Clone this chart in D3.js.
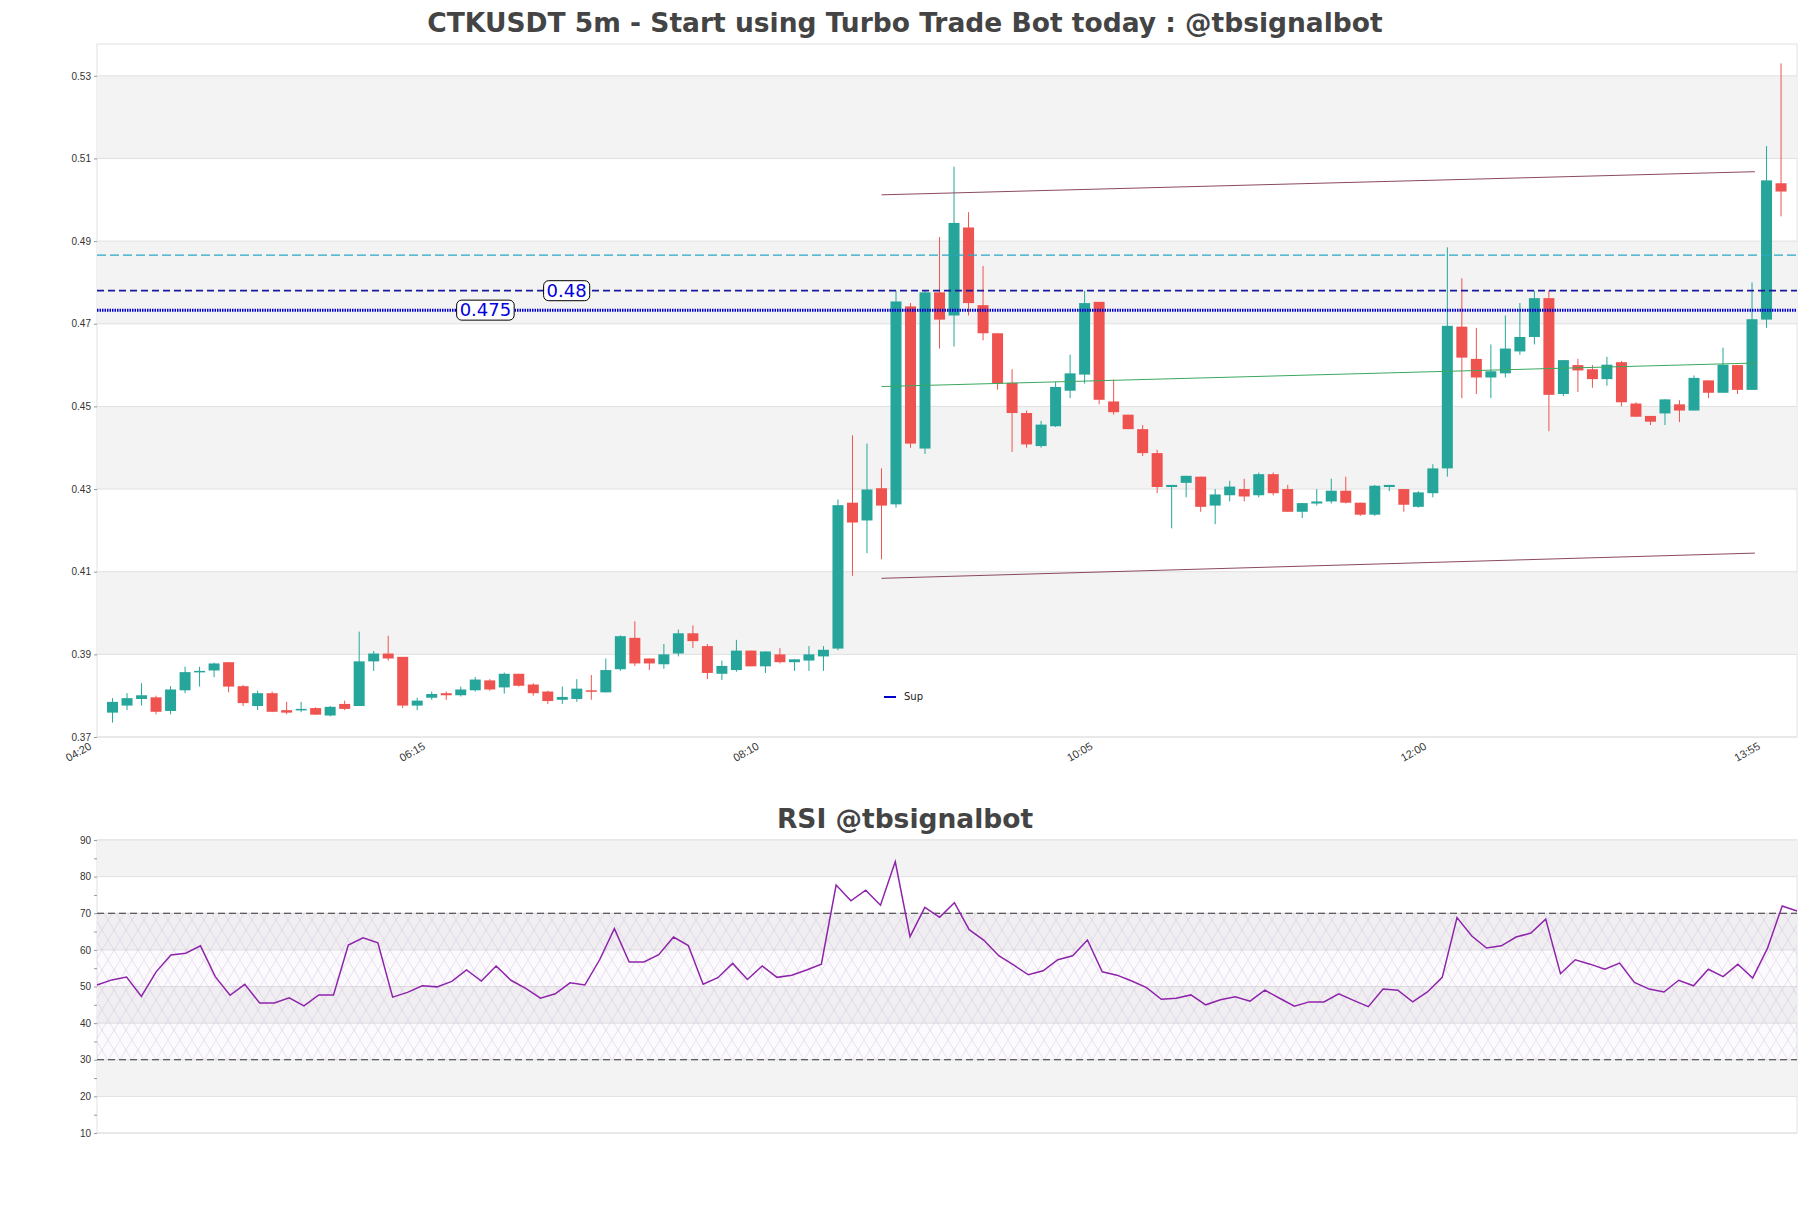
<!DOCTYPE html>
<html><head><meta charset="utf-8">
<script src="https://cdn.jsdelivr.net/npm/d3@7"></script>
<style>body{margin:0;background:#fff;font-family:"DejaVu Sans",sans-serif}</style>
</head><body><svg id="c" width="1811" height="1208"></svg>
<script>
const tickLabels=["04:20","06:15","08:10","10:05","12:00","13:55"];
const tickIndex=[0,23,46,69,92,115];
const open=[.3759,.3776,.3792,.3796,.3763,.3813,.3857,.3861,.3881,.3823,.3775,.3806,.3765,.3766,.3770,.3752,.3780,.3775,.3883,.3902,.3894,.3776,.3795,.3806,.3801,.3813,.3837,.3820,.3853,.3827,.3810,.3790,.3792,.3813,.3808,.3864,.3940,.3890,.3876,.3902,.3951,.3920,.3853,.3862,.3909,.3871,.3900,.3881,.3885,.3895,.3914,.4267,.4224,.4302,.4263,.4742,.4398,.4776,.4720,.4933,.4745,.4677,.4557,.4484,.4404,.4452,.4538,.4577,.4753,.4512,.4480,.4445,.4387,.4305,.4315,.4330,.4260,.4285,.4300,.4285,.4336,.4300,.4245,.4265,.4270,.4296,.4267,.4238,.4305,.4300,.4257,.4290,.4350,.4693,.4615,.4570,.4580,.4633,.4668,.4762,.4530,.4600,.4590,.4566,.4607,.4507,.4477,.4483,.4505,.4490,.4563,.4533,.4600,.4540,.4710,.5040];
const high=[.3794,.3806,.3830,.3800,.3823,.3870,.3870,.3880,.3881,.3826,.3812,.3810,.3785,.3785,.3772,.3775,.3788,.3955,.3908,.3945,.3894,.3795,.3810,.3810,.3822,.3845,.3840,.3856,.3853,.3830,.3812,.3822,.3840,.3850,.3890,.3946,.3980,.3890,.3925,.3960,.3970,.3925,.3885,.3935,.3909,.3907,.3915,.3888,.3920,.3920,.4275,.4430,.4410,.4350,.4780,.4750,.4780,.4910,.5080,.4970,.4840,.4677,.4590,.4490,.4465,.4560,.4625,.4780,.4753,.4565,.4480,.4455,.4395,.4310,.4332,.4330,.4300,.4320,.4325,.4340,.4340,.4310,.4266,.4300,.4325,.4330,.4267,.4310,.4310,.4300,.4295,.4360,.4885,.4810,.4690,.4650,.4720,.4750,.4780,.4780,.4612,.4615,.4600,.4620,.4610,.4510,.4477,.4517,.4515,.4575,.4563,.4642,.4600,.4800,.5130,.5330];
const low=[.3735,.3765,.3776,.3755,.3755,.3806,.3822,.3845,.3808,.3775,.3765,.3760,.3755,.3760,.3754,.3750,.3765,.3775,.3860,.3885,.3770,.3765,.3790,.3790,.3798,.3810,.3812,.3805,.3822,.3800,.3780,.3780,.3785,.3790,.3808,.3860,.3872,.3862,.3865,.3895,.3915,.3840,.3838,.3858,.3871,.3855,.3878,.3860,.3860,.3860,.3910,.4090,.4145,.4130,.4255,.4400,.4385,.4640,.4645,.4720,.4660,.4540,.4390,.4400,.4400,.4450,.4520,.4555,.4505,.4480,.4445,.4380,.4290,.4205,.4280,.4245,.4215,.4270,.4270,.4280,.4285,.4245,.4230,.4260,.4265,.4265,.4235,.4235,.4295,.4245,.4255,.4280,.4330,.4520,.4530,.4520,.4570,.4625,.4650,.4440,.4525,.4535,.4545,.4550,.4500,.4475,.4455,.4455,.4462,.4490,.4520,.4533,.4530,.4540,.4690,.4960];
const close=[.3785,.3794,.3801,.3761,.3815,.3857,.3860,.3878,.3822,.3782,.3806,.3761,.3759,.3768,.3754,.3773,.3768,.3883,.3902,.3890,.3776,.3788,.3804,.3801,.3815,.3839,.3815,.3853,.3824,.3806,.3787,.3797,.3817,.3810,.3862,.3944,.3878,.3878,.3900,.3951,.3932,.3855,.3872,.3909,.3871,.3907,.3881,.3888,.3900,.3911,.4261,.4219,.4299,.4260,.4754,.4410,.4776,.4710,.4944,.4750,.4677,.4555,.4484,.4408,.4456,.4547,.4580,.4750,.4516,.4486,.4445,.4387,.4305,.4310,.4332,.4257,.4287,.4306,.4282,.4336,.4290,.4245,.4266,.4270,.4296,.4267,.4238,.4308,.4310,.4262,.4292,.4350,.4695,.4618,.4570,.4585,.4640,.4668,.4762,.4528,.4612,.4587,.4566,.4601,.4510,.4475,.4463,.4517,.4490,.4569,.4533,.4601,.4540,.4711,.5047,.5020];
const rsi=[50.4,51.8,52.6,47.3,54.0,58.6,59.1,61.1,52.7,47.6,50.6,45.5,45.5,46.9,44.7,47.7,47.7,61.3,63.3,61.9,47.1,48.4,50.2,49.9,51.4,54.5,51.5,55.6,51.7,49.5,46.8,48.0,51.0,50.4,57.3,65.8,56.7,56.7,58.7,63.5,61.2,50.6,52.4,56.3,51.9,55.6,52.5,53.1,54.5,56.1,77.7,73.4,76.3,72.2,84.1,63.6,71.6,68.9,72.9,65.5,62.6,58.4,55.9,53.2,54.3,57.3,58.4,62.7,54.0,53.1,51.5,49.7,46.5,46.8,47.7,45.0,46.4,47.2,46.0,49.0,46.8,44.6,45.8,45.8,48.0,46.2,44.5,49.3,49.0,45.8,48.5,52.5,68.8,63.8,60.5,61.1,63.5,64.6,68.4,53.5,57.3,56.1,54.7,56.4,51.1,49.3,48.5,51.7,50.2,54.7,52.7,56.1,52.3,60.4,72.0,70.6];
const hLines=[{v:0.4866,c:"#2aa8c8",d:"9,4",w:1.3},{v:0.478,c:"#1a1aa0",d:"7,4",w:1.8,label:"0.48",lx:31.3},{v:0.4733,c:"#0000cc",d:"1.5,1",w:3,label:"0.475",lx:25.7}];
const upperLine=[[53,0.5012],[113.2,0.5068]];
const lowerLine=[[53,0.4084],[113.2,0.4145]];
const midLine=[[53,0.4548],[113.2,0.4605]];
const priceTicks=[0.37,0.39,0.41,0.43,0.45,0.47,0.49,0.51,0.53];
const rsiTicks=[10,20,30,40,50,60,70,80,90];

const svg=d3.select("#c");
const L=97,R=1797,T=44,B=737;
const x=d3.scaleLinear().domain([-1.07,116.1]).range([L,R]);
const y=d3.scaleLinear().domain([0.37,0.5377]).range([B,T]);
const g=svg.append("g");
g.append("rect").attr("x",L).attr("y",T).attr("width",R-L).attr("height",B-T).attr("fill","#fff").attr("stroke","#e2e2e2");
for(let i=0;i<priceTicks.length-1;i++){ if(i%2==1) g.append("rect").attr("x",L).attr("width",R-L).attr("y",y(priceTicks[i+1])).attr("height",y(priceTicks[i])-y(priceTicks[i+1])).attr("fill","#f3f3f3");}
priceTicks.forEach(t=>g.append("line").attr("x1",L).attr("x2",R).attr("y1",y(t)).attr("y2",y(t)).attr("stroke","#e0e0e0"));
const ya=g.append("g").attr("transform",`translate(${L},0)`).call(d3.axisLeft(y).tickValues(priceTicks).tickFormat(d3.format(".2f")).tickSize(3));
ya.select(".domain").remove();ya.selectAll("text").attr("font-size",10).attr("fill","#333");ya.selectAll("line").attr("stroke","#999");
const xa=g.append("g").attr("transform",`translate(0,${B})`).call(d3.axisBottom(x).tickValues(tickIndex).tickFormat((d,i)=>tickLabels[i]).tickSize(0));
xa.select(".domain").remove();
xa.selectAll("text").attr("font-size",11).attr("fill","#333").attr("text-anchor","end").attr("transform","translate(-26,2) rotate(-30)");
const cw=11;
open.forEach((o,i)=>{const c=close[i],col=c>=o?"#26a69a":"#ef5350";
 g.append("line").attr("x1",x(i)).attr("x2",x(i)).attr("y1",y(high[i])).attr("y2",y(low[i])).attr("stroke",col).attr("stroke-width",1);
 g.append("rect").attr("x",x(i)-cw/2).attr("width",cw).attr("y",y(Math.max(o,c))).attr("height",Math.max(1.5,Math.abs(y(o)-y(c)))).attr("fill",col);});
const ln=d3.line().x(d=>x(d[0])).y(d=>y(d[1]));
g.append("path").attr("d",ln(upperLine)).attr("stroke","#8b4a5e").attr("fill","none");
g.append("path").attr("d",ln(lowerLine)).attr("stroke","#8b4a5e").attr("fill","none");
g.append("path").attr("d",ln(midLine)).attr("stroke","#3aa860").attr("fill","none");
hLines.forEach(h=>{g.append("line").attr("x1",L).attr("x2",R).attr("y1",y(h.v)).attr("y2",y(h.v)).attr("stroke",h.c).attr("stroke-width",h.w).attr("stroke-dasharray",h.d);
 if(h.label){const t=g.append("text").attr("x",x(h.lx)).attr("y",y(h.v)+6).attr("text-anchor","middle").attr("font-size",18).attr("fill","#0000dd").text(h.label);
  const bb=t.node().getBBox();g.insert("rect",()=>t.node()).attr("x",bb.x-3).attr("y",bb.y+1).attr("width",bb.width+6).attr("height",bb.height-1).attr("rx",5).attr("fill","#fff").attr("stroke","#000");}});
g.append("line").attr("x1",884).attr("x2",896).attr("y1",697).attr("y2",697).attr("stroke","#0000cc").attr("stroke-width",2);
g.append("text").attr("x",904).attr("y",700).attr("font-size",10).attr("fill","#222").text("Sup");
svg.append("text").attr("x",905).attr("y",32).attr("text-anchor","middle").attr("font-size",26.5).attr("font-weight","bold").attr("fill","#444").text("CTKUSDT 5m - Start using Turbo Trade Bot today : @tbsignalbot");
const RT=840,RB=1133;
const xr=d3.scaleLinear().domain([0,115]).range([L,R]);
const yr=d3.scaleLinear().domain([10,90]).range([RB,RT]);
const defs=svg.append("defs");
const p=defs.append("pattern").attr("id","h").attr("width",12).attr("height",20).attr("patternUnits","userSpaceOnUse");
p.append("path").attr("d","M0,0L12,20M12,0L0,20").attr("stroke","#c9b3d6").attr("stroke-width",0.5).attr("opacity",0.7);
const r=svg.append("g");
r.append("rect").attr("x",L).attr("y",RT).attr("width",R-L).attr("height",RB-RT).attr("fill","#fff").attr("stroke","#e2e2e2");
[[80,90],[60,70],[40,50],[20,30]].forEach(b=>r.append("rect").attr("x",L).attr("width",R-L).attr("y",yr(b[1])).attr("height",yr(b[0])-yr(b[1])).attr("fill","#f3f3f3"));
rsiTicks.forEach(t=>r.append("line").attr("x1",L).attr("x2",R).attr("y1",yr(t)).attr("y2",yr(t)).attr("stroke","#e0e0e0"));
r.append("rect").attr("x",L).attr("width",R-L).attr("y",yr(70)).attr("height",yr(30)-yr(70)).attr("fill","url(#h)");
r.append("rect").attr("x",L).attr("width",R-L).attr("y",yr(70)).attr("height",yr(30)-yr(70)).attr("fill","#9b59b6").attr("opacity",0.03);
const ra=r.append("g").attr("transform",`translate(${L},0)`).call(d3.axisLeft(yr).tickValues(d3.range(10,91,5)).tickFormat(d=>d%10==0?d:"").tickSize(3));
ra.select(".domain").remove();ra.selectAll("text").attr("font-size",10).attr("fill","#333");ra.selectAll("line").attr("stroke","#999");
[70,30].forEach(v=>r.append("line").attr("x1",L).attr("x2",R).attr("y1",yr(v)).attr("y2",yr(v)).attr("stroke","#333").attr("stroke-width",1.2).attr("stroke-dasharray","7,4"));
r.append("path").attr("d",d3.line().x((d,i)=>xr(i)).y(d=>yr(d))(rsi)).attr("fill","none").attr("stroke","#8e24aa").attr("stroke-width",1.5);
svg.append("text").attr("x",905).attr("y",828).attr("text-anchor","middle").attr("font-size",26.5).attr("font-weight","bold").attr("fill","#444").text("RSI @tbsignalbot");
</script></body></html>
